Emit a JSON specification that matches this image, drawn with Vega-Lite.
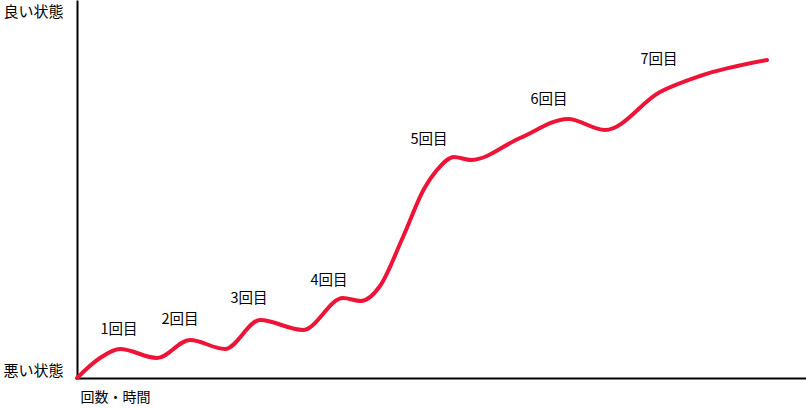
{
  "$schema": "https://vega.github.io/schema/vega-lite/v6.json",
  "width": 729,
  "height": 378,
  "autosize": {"type": "none"},
  "padding": {"left": 77, "top": 0, "right": 0, "bottom": 30},
  "background": "white",
  "config": {"view": {"stroke": null}, "font": "Noto Sans CJK JP"},
  "datasets": {
    "curve": [
      {"t": 0, "v": 0},
      {"t": 23, "v": 20},
      {"t": 43, "v": 29},
      {"t": 80, "v": 20},
      {"t": 113, "v": 38},
      {"t": 148, "v": 29},
      {"t": 183, "v": 58},
      {"t": 226, "v": 48},
      {"t": 266, "v": 80},
      {"t": 284, "v": 77},
      {"t": 303, "v": 92},
      {"t": 326, "v": 141},
      {"t": 347, "v": 189},
      {"t": 360, "v": 208},
      {"t": 377, "v": 221},
      {"t": 394, "v": 218},
      {"t": 443, "v": 240},
      {"t": 491, "v": 259},
      {"t": 528, "v": 248},
      {"t": 583, "v": 286},
      {"t": 623, "v": 302},
      {"t": 690, "v": 318}
    ],
    "labels": [
      {"t": 42, "v": 48, "label": "1回目"},
      {"t": 103, "v": 58, "label": "2回目"},
      {"t": 172, "v": 79, "label": "3回目"},
      {"t": 252, "v": 97, "label": "4回目"},
      {"t": 352, "v": 238, "label": "5回目"},
      {"t": 472, "v": 278, "label": "6回目"},
      {"t": 582, "v": 318, "label": "7回目"}
    ]
  },
  "layer": [
    {
      "data": {"name": "curve"},
      "mark": {"type": "line", "interpolate": "monotone", "color": "#EE1438", "strokeWidth": 4, "strokeCap": "round", "clip": false},
      "encoding": {
        "x": {
          "field": "t", "type": "quantitative",
          "scale": {"domain": [0, 729], "nice": false, "zero": false},
          "axis": {"title": "回数・時間", "titleX": 3, "titleAlign": "left", "titleFontSize": 14, "titleFontWeight": "normal", "titleColor": "black", "titlePadding": 12, "labels": false, "ticks": false, "grid": false, "domainColor": "black", "domainWidth": 2}
        },
        "y": {
          "field": "v", "type": "quantitative",
          "scale": {"domain": [0, 378], "nice": false, "zero": false},
          "axis": {"title": null, "values": [8, 367], "labelExpr": "datum.value > 100 ? '良い状態' : '悪い状態'", "labelFontSize": 15, "labelColor": "black", "labelPadding": 14, "ticks": false, "grid": false, "domainColor": "black", "domainWidth": 2}
        }
      }
    },
    {
      "data": {"name": "labels"},
      "mark": {"type": "text", "fontSize": 14.5, "color": "black"},
      "encoding": {
        "x": {"field": "t", "type": "quantitative"},
        "y": {"field": "v", "type": "quantitative"},
        "text": {"field": "label"}
      }
    }
  ]
}
